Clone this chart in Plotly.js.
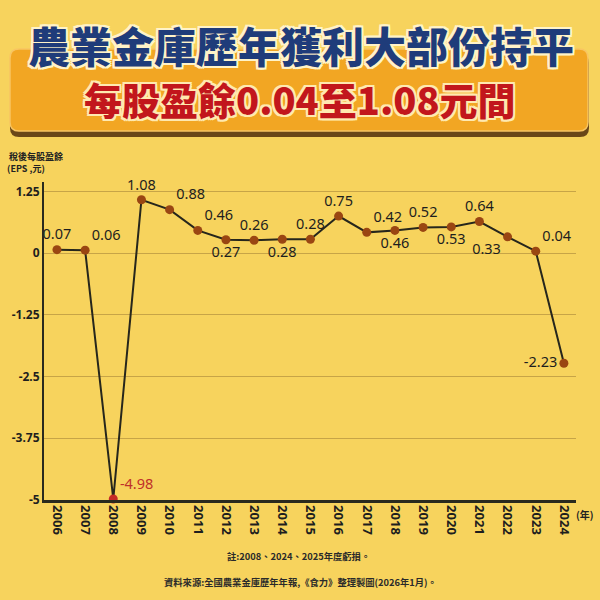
<!DOCTYPE html>
<html>
<head>
<meta charset="utf-8">
<script src="https://cdn.plot.ly/plotly-3.0.1.min.js"></script>
<style>
html,body{margin:0;padding:0;background:#F7D35D;}
#chart{width:600px;height:600px;}
</style>
</head>
<body>
<div id="chart"></div>
<script>
// ---- data ----
const years = ['2006','2007','2008','2009','2010','2011','2012','2013','2014','2015','2016','2017','2018','2019','2020','2021','2022','2023','2024'];
const eps = [0.07,0.06,-4.98,1.08,0.88,0.46,0.27,0.26,0.28,0.28,0.75,0.42,0.46,0.52,0.53,0.64,0.33,0.04,-2.23];
const epsLabels = ['0.07','0.06','-4.98','1.08','0.88','0.46','0.27','0.26','0.28','0.28','0.75','0.42','0.46','0.52','0.53','0.64','0.33','0.04','-2.23'];
const labelPos = ['top center','top right','top right','top center','top right','top right','bottom center','top center','bottom center','top center','top center','top right','bottom center','top center','bottom center','top center','bottom left','top right','middle left'];
const yTicks = [1.25,0,-1.25,-2.5,-3.75,-5];
const yTickText = ['1.25','0','-1.25','-2.5','-3.75','-5'];
const lossYear = '2008';

const titleText = '農業金庫歷年獲利大部份持平';
const subtitleText = '每股盈餘0.04至1.08元間';
const yAxisLabel1 = '稅後每股盈餘';
const yAxisLabel2 = '(EPS ,元)';
const xUnit = '(年)';
const note1 = '註:2008、2024、2025年度虧損。';
const note2 = '資料來源:全國農業金庫歷年年報,《食力》整理製圖(2026年1月)。';

// ---- layout helpers (pixel -> paper) ----
const L = 44, R = 576, T = 182, B = 500;
const px = x => (x - L) / (R - L);
const py = y => (B - y) / (B - T);

const markerColors = years.map(y => y === lossYear ? '#C42A25' : '#9A4612');
const textColors = years.map(y => y === lossYear ? '#C0302A' : '#1E1E1E');

const trace = {
  type: 'scatter',
  mode: 'lines+markers+text',
  x: years,
  y: eps,
  text: epsLabels,
  textposition: labelPos,
  textfont: {family: 'Noto Sans, sans-serif', size: 14.5, color: textColors},
  line: {color: '#26261C', width: 2},
  marker: {size: 9, color: markerColors},
  cliponaxis: false,
  hoverinfo: 'skip'
};

function rrect(x0, y0, x1, y1, r) {
  const X = v => px(v).toFixed(5), Y = v => py(v).toFixed(5);
  return `M${X(x0+r)},${Y(y0)} L${X(x1-r)},${Y(y0)} Q${X(x1)},${Y(y0)} ${X(x1)},${Y(y0+r)} L${X(x1)},${Y(y1-r)} Q${X(x1)},${Y(y1)} ${X(x1-r)},${Y(y1)} L${X(x0+r)},${Y(y1)} Q${X(x0)},${Y(y1)} ${X(x0)},${Y(y1-r)} L${X(x0)},${Y(y0+r)} Q${X(x0)},${Y(y0)} ${X(x0+r)},${Y(y0)} Z`;
}

const outline = (c, w) => {
  const s = [];
  for (const [dx, dy] of [[w,0],[-w,0],[0,w],[0,-w],[w,w],[-w,-w],[w,-w],[-w,w]]) s.push(`${dx}px ${dy}px 0 ${c}`);
  return s.join(', ');
};

const layout = {
  width: 600, height: 600,
  margin: {l: L, r: 600 - R, t: T, b: 600 - B},
  paper_bgcolor: '#F7D35D',
  plot_bgcolor: 'rgba(0,0,0,0)',
  showlegend: false,
  xaxis: {
    type: 'category',
    range: [-0.46, 18.43],
    showgrid: false,
    showline: true, linecolor: '#2A2A1E', linewidth: 2.5,
    ticks: '', tickangle: 90,
    tickfont: {family: 'Noto Sans, sans-serif', size: 13, color: '#1E1E1E', weight: 'bold'},
    zeroline: false
  },
  yaxis: {
    range: [-5, 1.44],
    tickvals: yTicks, ticktext: yTickText,
    showgrid: true, gridcolor: '#C7A447', gridwidth: 1,
    showline: true, linecolor: '#2A2A1E', linewidth: 2,
    ticks: '', ticklen: 0,
    tickfont: {family: 'Noto Sans, sans-serif', size: 12, color: '#1E1E1E', weight: 'bold'},
    zeroline: false
  },
  shapes: [
    {type: 'path', xref: 'paper', yref: 'paper', path: rrect(10, 54, 589, 137, 9), fillcolor: '#6A4718', line: {width: 0}, layer: 'below'},
    {type: 'path', xref: 'paper', yref: 'paper', path: rrect(10, 49, 588, 131, 9), fillcolor: '#F2A623', line: {color: '#F8C562', width: 1.5}, layer: 'below'}
  ],
  annotations: [
    {xref: 'paper', yref: 'paper', x: px(301), y: py(44), xanchor: 'center', yanchor: 'middle', showarrow: false,
     text: titleText,
     font: {family: 'Noto Sans CJK TC, sans-serif', size: 42, color: '#1F3C7A', weight: 900, shadow: outline('#FFF3C8', 2)}},
    {xref: 'paper', yref: 'paper', x: px(300), y: py(98), xanchor: 'center', yanchor: 'middle', showarrow: false,
     text: subtitleText,
     font: {family: 'Noto Sans CJK TC, sans-serif', size: 38, color: '#C2161C', weight: 900, shadow: outline('#FFE9B0', 2)}},
    {xref: 'paper', yref: 'paper', x: px(7), y: py(156), xanchor: 'left', yanchor: 'middle', showarrow: false,
     text: yAxisLabel1, font: {family: 'Noto Sans CJK TC, sans-serif', size: 9, color: '#222', weight: 'bold'}},
    {xref: 'paper', yref: 'paper', x: px(5), y: py(169), xanchor: 'left', yanchor: 'middle', showarrow: false,
     text: yAxisLabel2, font: {family: 'Noto Sans CJK TC, sans-serif', size: 9, color: '#222', weight: 'bold'}},
    {xref: 'paper', yref: 'paper', x: px(585), y: py(514), xanchor: 'center', yanchor: 'middle', showarrow: false,
     text: xUnit, font: {family: 'Noto Sans CJK TC, sans-serif', size: 10, color: '#222', weight: 'bold'}},
    {xref: 'paper', yref: 'paper', x: px(298), y: py(556), xanchor: 'center', yanchor: 'middle', showarrow: false,
     text: note1, font: {family: 'Noto Sans CJK TC, sans-serif', size: 9.3, color: '#2A2A2A', weight: 'bold'}},
    {xref: 'paper', yref: 'paper', x: px(300), y: py(582), xanchor: 'center', yanchor: 'middle', showarrow: false,
     text: note2, font: {family: 'Noto Sans CJK TC, sans-serif', size: 9.3, color: '#2A2A2A', weight: 'bold'}}
  ]
};

Plotly.newPlot('chart', [trace], layout, {displayModeBar: false, staticPlot: true});
</script>
</body>
</html>
